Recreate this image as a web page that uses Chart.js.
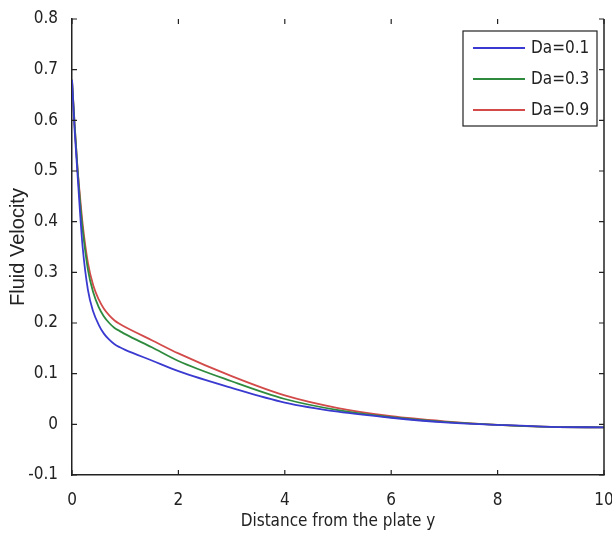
<!DOCTYPE html>
<html>
<head>
<meta charset="utf-8">
<script src="https://cdn.jsdelivr.net/npm/chart.js@4.4.1/dist/chart.umd.min.js"></script>
<style>
  html, body { margin: 0; padding: 0; background: #fff; }
  #wrap { width: 612px; height: 542px; }
</style>
</head>
<body>
<div id="wrap"><canvas id="velocityChart" width="612" height="542"></canvas></div>
<script>
// distance from the plate (x) and fluid velocity for each Darcy number
const distance = [0, 0.05, 0.1, 0.15, 0.2, 0.3, 0.4, 0.5, 0.6, 0.7, 0.8, 0.9, 1, 1.5, 2, 3, 4, 5, 6, 7, 8, 9, 10];
const velDa01 = [0.68, 0.58, 0.50, 0.42, 0.35, 0.265, 0.222, 0.197, 0.179, 0.167, 0.158, 0.152, 0.147, 0.126, 0.105, 0.072, 0.043, 0.025, 0.013, 0.004, -0.001, -0.005, -0.006];
const velDa03 = [0.68, 0.59, 0.51, 0.44, 0.385, 0.305, 0.26, 0.232, 0.213, 0.2, 0.19, 0.184, 0.178, 0.152, 0.125, 0.085, 0.05, 0.028, 0.014, 0.005, -0.001, -0.005, -0.006];
const velDa09 = [0.68, 0.59, 0.51, 0.45, 0.395, 0.318, 0.274, 0.247, 0.228, 0.215, 0.205, 0.198, 0.192, 0.166, 0.14, 0.095, 0.057, 0.032, 0.016, 0.006, -0.001, -0.005, -0.006];
const seriesLabels = ['Da=0.1', 'Da=0.3', 'Da=0.9'];
const xTicks = [0, 2, 4, 6, 8, 10];
const yTicks = [-0.1, 0, 0.1, 0.2, 0.3, 0.4, 0.5, 0.6, 0.7, 0.8];

const narrow = "'DejaVu Sans Condensed', 'Liberation Sans', sans-serif";
const colors = ['#3a3ad0', '#2e8b3e', '#d24a4a'];

function toPoints(ys) {
  return distance.map((x, i) => ({ x: x, y: ys[i] }));
}

// box with inward ticks (no top line, like the original figure) and legend
const framePlugin = {
  id: 'frame',
  afterDatasetsDraw(chart) {
    const ctx = chart.ctx;
    const a = chart.chartArea;
    const xs = chart.scales.x;
    const ys = chart.scales.y;
    ctx.save();
    ctx.strokeStyle = '#222';
    ctx.lineWidth = 1.5;
    ctx.beginPath();
    ctx.moveTo(a.right, a.top);
    ctx.lineTo(a.right, a.bottom);
    ctx.stroke();
    ctx.lineWidth = 1.2;
    ctx.beginPath();
    xTicks.forEach(v => {
      const px = xs.getPixelForValue(v);
      ctx.moveTo(px, a.bottom); ctx.lineTo(px, a.bottom - 5);
      ctx.moveTo(px, a.top); ctx.lineTo(px, a.top + 5);
    });
    yTicks.forEach(v => {
      const py = ys.getPixelForValue(v);
      ctx.moveTo(a.left, py); ctx.lineTo(a.left + 5, py);
      ctx.moveTo(a.right, py); ctx.lineTo(a.right - 5, py);
    });
    ctx.stroke();

    // legend
    const bx = 463, by = 31, bw = 134, bh = 95;
    ctx.fillStyle = '#fff';
    ctx.fillRect(bx, by, bw, bh);
    ctx.strokeStyle = '#222';
    ctx.lineWidth = 1.2;
    ctx.strokeRect(bx, by, bw, bh);
    ctx.font = '17px ' + narrow;
    ctx.textBaseline = 'middle';
    chart.data.datasets.forEach((ds, i) => {
      const ry = by + 17 + i * 31;
      ctx.strokeStyle = ds.borderColor;
      ctx.lineWidth = 1.8;
      ctx.beginPath();
      ctx.moveTo(bx + 10, ry);
      ctx.lineTo(bx + 62, ry);
      ctx.stroke();
      ctx.fillStyle = '#222';
      ctx.fillText(ds.label, bx + 68, ry + 1);
    });
    ctx.restore();
  }
};

new Chart(document.getElementById('velocityChart').getContext('2d'), {
  type: 'line',
  data: {
    datasets: [velDa01, velDa03, velDa09].map((vals, i) => ({
      label: seriesLabels[i],
      data: toPoints(vals),
      borderColor: colors[i],
      borderWidth: 1.8,
      pointRadius: 0,
      fill: false,
      cubicInterpolationMode: 'monotone'
    }))
  },
  options: {
    responsive: false,
    animation: false,
    layout: { padding: { top: 19, right: 0, left: 0, bottom: 6 } },
    plugins: { legend: { display: false }, tooltip: { enabled: false } },
    scales: {
      x: {
        type: 'linear',
        min: 0,
        max: 10,
        afterBuildTicks: s => { s.ticks = xTicks.map(v => ({ value: v })); },
        afterFit: s => { s.height = 61; s.paddingRight = 8; s.paddingLeft = 0; },
        grid: { display: false },
        border: { display: true, color: '#222', width: 1.5 },
        ticks: { color: '#222', padding: 7, maxRotation: 0, font: { family: narrow, size: 17 } },
        title: {
          display: true,
          text: 'Distance from the plate y',
          color: '#222',
          padding: { top: 0, bottom: 4 },
          font: { family: narrow, size: 17 }
        }
      },
      y: {
        min: -0.1,
        max: 0.8,
        afterBuildTicks: s => { s.ticks = yTicks.map(v => ({ value: v })); },
        afterFit: s => { s.width = 72; },
        grid: { display: false },
        border: { display: true, color: '#222', width: 1.5 },
        ticks: {
          color: '#222',
          padding: 6,
          font: { family: narrow, size: 17 },
          callback: v => String(Math.round(v * 10) / 10)
        },
        title: {
          display: true,
          text: 'Fluid Velocity',
          color: '#222',
          padding: { top: 6, bottom: 0 },
          font: { family: "'Liberation Sans', sans-serif", size: 20 }
        }
      }
    }
  },
  plugins: [framePlugin]
});
</script>
</body>
</html>
